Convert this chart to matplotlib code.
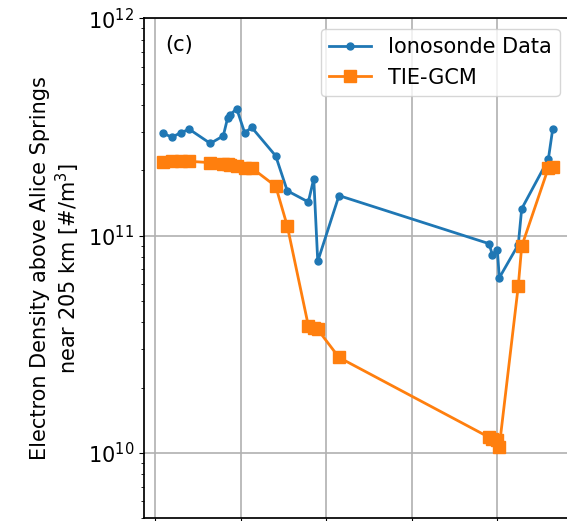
import matplotlib.pyplot as plt

# time of each sample, hours
hours = [0.56, 1.17, 1.78, 2.39, 3.86, 4.77, 5.08, 5.24, 5.71, 6.27, 6.77,
         8.45, 9.26, 10.74, 11.12, 11.40, 12.89,
         23.42, 23.65, 24.00, 24.14, 25.47, 25.71, 27.58, 27.89]

# electron density [#/m^3]
ionosonde = [2.96e11, 2.84e11, 2.98e11, 3.09e11, 2.66e11, 2.88e11, 3.49e11,
             3.59e11, 3.85e11, 2.98e11, 3.15e11,
             2.33e11, 1.61e11, 1.43e11, 1.83e11, 7.62e10, 1.53e11,
             9.19e10, 8.18e10, 8.63e10, 6.40e10, 9.09e10, 1.33e11, 2.25e11, 3.11e11]
tiegcm = [2.19e11, 2.20e11, 2.20e11, 2.20e11, 2.17e11, 2.14e11, 2.13e11,
          2.12e11, 2.09e11, 2.06e11, 2.05e11,
          1.69e11, 1.11e11, 3.85e10, 3.77e10, 3.70e10, 2.75e10,
          1.18e10, 1.16e10, 1.15e10, 1.07e10, 5.87e10, 8.93e10, 2.05e11, 2.08e11]

hour_ticks = [0, 6, 12, 18, 24]

fig = plt.figure(figsize=(5.67, 5.21), dpi=100)
ax = fig.add_axes([0.254, 0.0052, 0.7513, 0.9593])

ax.plot(hours, ionosonde, '-o', color='tab:blue', lw=2, ms=5, label='Ionosonde Data')
ax.plot(hours, tiegcm, '-s', color='tab:orange', lw=2, ms=9, label='TIE-GCM')

ax.set_yscale('log')
ax.set_ylim(5e9, 1e12)
ax.set_xlim(-0.79, 29.1)
ax.set_xticks(hour_ticks)
ax.grid(True, color='#b0b0b0', lw=1.2)
for s in ax.spines.values():
    s.set_linewidth(1.25)

ax.tick_params(labelsize=15)
ax.tick_params(axis='x', labelbottom=False)
ax.set_ylabel('Electron Density above Alice Springs\nnear 205 km [#/m$^3$]', fontsize=15)
ax.text(0.05, 0.947, '(c)', transform=ax.transAxes, fontsize=15, ha='left', va='center')
ax.legend(loc='upper right', fontsize=15)

fig.savefig('out.png', dpi=100)
